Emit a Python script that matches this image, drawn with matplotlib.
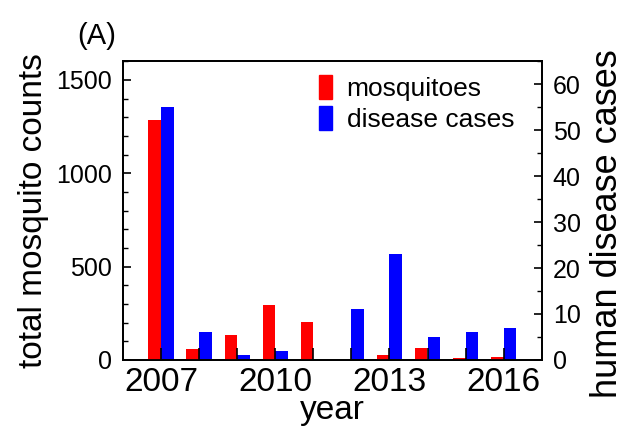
import numpy as np
import matplotlib
matplotlib.use("Agg")
import matplotlib.pyplot as plt
from matplotlib.ticker import MultipleLocator, FixedLocator, FuncFormatter
from matplotlib.patches import Patch

plt.rcParams['font.family'] = ['Liberation Sans', 'DejaVu Sans']

years = [2007, 2008, 2009, 2010, 2011, 2012, 2013, 2014, 2015, 2016]
mosquitoes = [1287, 60, 132, 294, 205, 0, 27, 66, 8, 14]
cases = [55, 6, 1, 2, 0, 11, 23, 5, 6, 7]
shown_years = [2007, 2010, 2013, 2016]

fig = plt.figure(figsize=(6.27, 4.28), dpi=100)
ax = fig.add_axes([0.196, 0.159, 0.668, 0.698])
ax2 = ax.twinx()

w = 0.33
x = np.array(years)
ax.bar(x - w / 2, mosquitoes, width=w, color='#ff0000', zorder=1)
ax2.bar(x + w / 2, cases, width=w, color='#0000ff', zorder=1)

# red axes (with the black year ticks) drawn over the blue bars
ax.set_zorder(ax2.get_zorder() + 1)
ax.patch.set_visible(False)

ax.set_xlim(2006, 2017)
ax.set_ylim(0, 1600)
ax2.set_ylim(0, 65)

ax.xaxis.set_major_locator(FixedLocator(years))
ax.xaxis.set_major_formatter(FuncFormatter(lambda v, p: str(int(round(v))) if int(round(v)) in shown_years else ''))
ax.yaxis.set_major_locator(MultipleLocator(500))
ax.yaxis.set_minor_locator(MultipleLocator(100))
ax2.yaxis.set_major_locator(MultipleLocator(10))
ax2.yaxis.set_minor_locator(MultipleLocator(5))

ax.tick_params(axis='x', direction='in', length=9, width=1.2, labelsize=24, pad=5, top=False)
ax.tick_params(axis='y', which='major', direction='in', length=6, width=1.2, labelsize=18, pad=8, right=False)
ax.tick_params(axis='y', which='minor', direction='in', length=3.5, width=1.0, right=False)
ax2.tick_params(axis='y', which='major', direction='in', length=6, width=1.2, labelsize=18, pad=8)
ax2.tick_params(axis='y', which='minor', direction='in', length=3.5, width=1.0)

for a in (ax, ax2):
    for s in a.spines.values():
        s.set_linewidth(1.3)

ax.set_xlabel('year', fontsize=24, labelpad=-2)
ax.set_ylabel('total mosquito counts', fontsize=24, labelpad=5)
ax2.set_ylabel('human disease cases', fontsize=26)
ax2.yaxis.set_label_coords(1.115, 0.455)

fig.text(0.124, 0.915, '(A)', fontsize=21, ha='left', va='center')

handles = [Patch(color='#ff0000', label='mosquitoes'),
           Patch(color='#0000ff', label='disease cases')]
ax.legend(handles=handles, loc='upper right', bbox_to_anchor=(0.978, 1.015),
          frameon=False, fontsize=19, handlelength=0.5, handleheight=1.0,
          handletextpad=0.55, labelspacing=0.2, borderaxespad=0.3)

fig.savefig('out.png', dpi=100)
